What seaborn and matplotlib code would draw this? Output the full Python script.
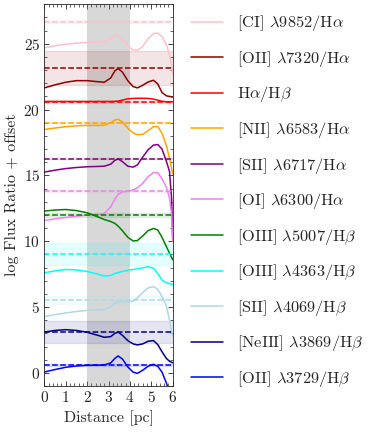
import matplotlib
matplotlib.use("Agg")
import matplotlib.pyplot as plt
import numpy as np
import pandas as pd
import seaborn as sns
from matplotlib.ticker import AutoMinorLocator, MultipleLocator

# distance grid (pc) at which the model curves were read
distance = [0, 0.5, 1, 1.5, 2, 2.5, 2.8, 3.1, 3.3, 3.45, 3.65, 3.9, 4.15, 4.35,
            4.6, 4.85, 5.1, 5.3, 5.5, 5.7, 5.85, 5.95, 6.0]

labels = [
    r"[CI] $\lambda$9852/H$\alpha$",
    r"[OII] $\lambda$7320/H$\alpha$",
    r"H$\alpha$/H$\beta$",
    r"[NII] $\lambda$6583/H$\alpha$",
    r"[SII] $\lambda$6717/H$\alpha$",
    r"[OI] $\lambda$6300/H$\alpha$",
    r"[OIII] $\lambda$5007/H$\beta$",
    r"[OIII] $\lambda$4363/H$\beta$",
    r"[SII] $\lambda$4069/H$\beta$",
    r"[NeIII] $\lambda$3869/H$\beta$",
    r"[OII] $\lambda$3729/H$\beta$",
]
colors = ["pink", "darkred", "red", "orange", "purple", "violet", "green",
          "cyan", "lightblue", "navy", "blue"]

# model log ratio + offset along the distance grid
ci_9852 = [24.69, 24.85, 24.97, 25.05, 25.10, 25.13, 25.17, 25.35, 25.60, 25.63, 25.35, 24.85,
           24.52, 24.50, 24.80, 25.40, 25.78, 25.82, 25.55, 24.95, 24.20, 23.30, 22.70]
oii_7320 = [21.65, 21.88, 22.08, 22.20, 22.20, 22.12, 22.08, 22.40, 22.95, 23.12, 22.85, 22.20,
            21.75, 21.65, 21.85, 22.10, 22.23, 21.95, 21.30, 21.05, 21.00, 20.97, 20.95]
ha_hb = [20.62, 20.62, 20.62, 20.62, 20.62, 20.62, 20.62, 20.62, 20.63, 20.65, 20.72, 20.82,
         20.85, 20.86, 20.86, 20.85, 20.80, 20.72, 20.63, 20.60, 20.60, 20.60, 20.60]
nii_6583 = [18.49, 18.60, 18.70, 18.77, 18.80, 18.80, 18.82, 19.00, 19.22, 19.27, 19.05, 18.60,
            18.22, 18.10, 18.12, 18.40, 18.70, 18.72, 18.20, 17.30, 16.30, 15.50, 15.10]
sii_6717 = [15.25, 15.40, 15.52, 15.60, 15.66, 15.68, 15.70, 15.85, 16.15, 16.25, 16.05, 15.70,
            15.63, 15.80, 16.40, 16.95, 17.30, 17.35, 17.00, 16.10, 15.30, 13.20, 10.10]
oi_6300 = [11.58, 11.70, 11.80, 11.90, 11.98, 12.03, 12.10, 12.60, 13.20, 13.55, 13.75, 13.80,
           13.90, 14.05, 14.40, 14.90, 15.22, 15.20, 14.75, 14.10, 13.30, 12.00, 10.00]
oiii_5007 = [12.29, 12.37, 12.41, 12.33, 12.16, 11.85, 11.65, 11.50, 11.35, 11.15, 10.80, 10.30,
             10.02, 10.05, 10.40, 10.80, 10.97, 10.85, 10.30, 9.60, 9.10, 8.75, 8.60]
oiii_4363 = [7.60, 7.75, 7.85, 7.82, 7.70, 7.50, 7.35, 7.40, 7.55, 7.62, 7.70, 7.80,
             7.85, 7.90, 7.98, 8.06, 7.95, 7.55, 7.05, 6.85, 6.78, 6.73, 6.72]
sii_4069 = [4.27, 4.42, 4.55, 4.66, 4.74, 4.78, 4.80, 5.00, 5.30, 5.40, 5.42, 5.40,
            5.45, 5.70, 6.10, 6.45, 6.55, 6.35, 5.80, 5.10, 4.00, 3.10, 2.80]
neiii_3869 = [3.10, 3.22, 3.28, 3.22, 3.08, 2.85, 2.70, 2.75, 3.00, 3.10, 2.85, 2.45,
              2.20, 2.12, 2.20, 2.40, 2.45, 2.15, 1.60, 1.10, 0.88, 0.80, 0.77]
oii_3729 = [0.06, 0.25, 0.42, 0.52, 0.57, 0.58, 0.60, 0.75, 1.10, 1.28, 1.05, 0.45,
            0.05, -0.04, 0.20, 0.50, 0.65, 0.50, 0.05, -0.75, -1.50, -2.00, -2.30]

models = [ci_9852, oii_7320, ha_hb, nii_6583, sii_6717, oi_6300, oiii_5007,
          oiii_4363, sii_4069, neiii_3869, oii_3729]

# observed values (dashed) and their uncertainty bands
observed = [26.69, 23.14, 20.57, 19.02, 16.26, 13.80, 12.01, 9.06, 5.55, 3.10, 0.57]
obs_low = [26.57, 21.85, 20.47, 18.97, 16.21, 13.75, 11.86, 8.20, 5.25, 2.24, 0.50]
obs_high = [26.81, 24.43, 20.67, 19.07, 16.31, 13.85, 12.16, 9.90, 5.83, 3.93, 0.64]

region = (2, 4)

sns.set_style("ticks")
plt.rcParams["font.family"] = ["cmr10"]
plt.rcParams["mathtext.fontset"] = "cm"
plt.rcParams["axes.formatter.use_mathtext"] = True
plt.rcParams["font.size"] = 11

fig = plt.figure(figsize=(3.74, 4.32), dpi=100)
ax = fig.add_axes([0.1185, 0.1065, 0.3433, 0.8835])

ax.axvspan(region[0], region[1], color="gray", alpha=0.3, lw=0)

for lab, col, model, obs, lo, hi in zip(labels, colors, models, observed, obs_low, obs_high):
    df = pd.DataFrame({"distance": distance, "value": model})
    sns.lineplot(data=df, x="distance", y="value", color=col, lw=1.1, label=lab, ax=ax)
    ax.axhline(obs, color=col, ls="--", lw=1.1)
    ax.axhspan(lo, hi, color=col, alpha=0.1)

ax.set_xlim(0, 6)
ax.set_ylim(-1, 28)
ax.xaxis.set_major_locator(MultipleLocator(1))
ax.yaxis.set_major_locator(MultipleLocator(5))
ax.xaxis.set_minor_locator(AutoMinorLocator(5))
ax.yaxis.set_minor_locator(AutoMinorLocator(5))
ax.tick_params(which="both", direction="in", top=True, right=True, labelsize=11)
ax.tick_params(which="major", length=3.5, width=0.6, pad=3)
ax.tick_params(which="minor", length=2, width=0.5)
for s in ax.spines.values():
    s.set_linewidth(0.6)

ax.set_xlabel("Distance [pc]", fontsize=11.5, labelpad=4)
ax.set_ylabel("log Flux Ratio + offset", fontsize=11.5, labelpad=3)

ax.legend(loc="upper left", bbox_to_anchor=(1.025, 1.015), frameon=False,
          labelspacing=0.95, handlelength=2.0, handletextpad=0.8, fontsize=11.8)

fig.savefig("out.png", dpi=100)
